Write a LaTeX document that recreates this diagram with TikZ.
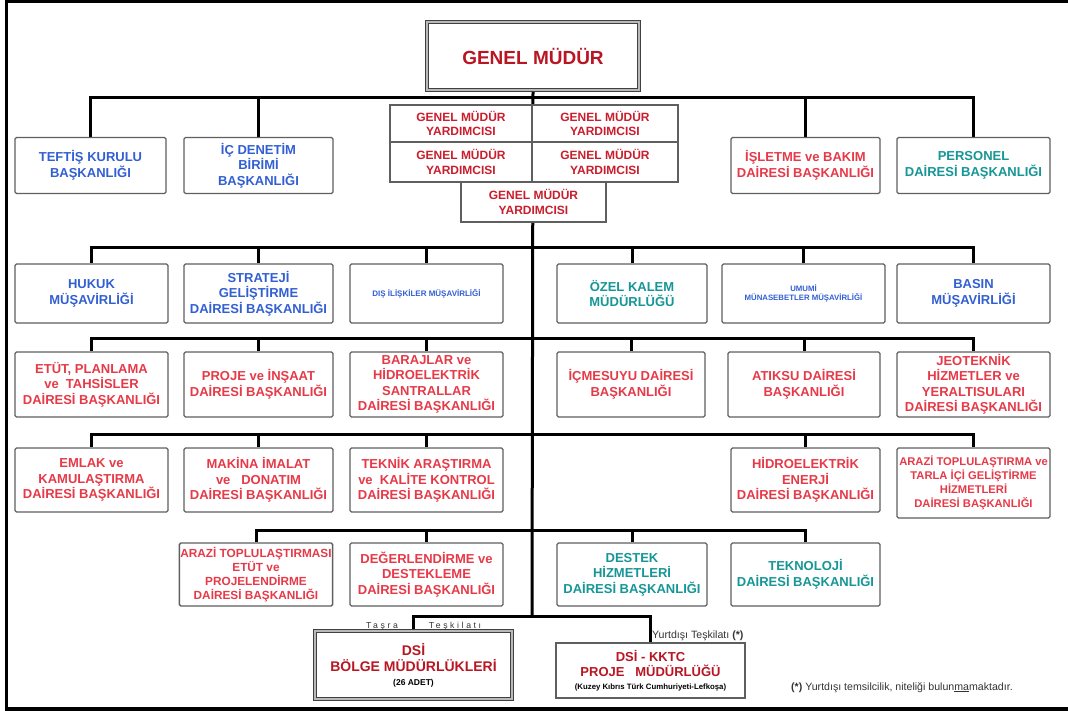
\documentclass[tikz,border=0pt]{standalone}
\usepackage{fontspec}
\setmainfont{Liberation Sans}
\newfontfamily\spacedfont[LetterSpace=30]{Liberation Sans}
\pgfdeclarelayer{background}
\pgfsetlayers{background,main}
\definecolor{dred}{RGB}{185,22,35}
\definecolor{mred}{RGB}{200,30,45}
\definecolor{lred}{RGB}{230,58,72}
\definecolor{ublue}{RGB}{50,95,210}
\definecolor{uteal}{RGB}{22,150,150}
\definecolor{bordergray}{RGB}{95,95,95}
\begin{document}
\begin{tikzpicture}[x=1pt,y=-1pt,
  box/.style={draw=bordergray, line width=1.3pt, fill=white, align=center, rounded corners=1.5pt,
    font=\bfseries\fontsize{13}{15.5}\selectfont, inner sep=1pt},
  redbox/.style={box, text=lred},
  bluebox/.style={box, text=ublue},
  tealbox/.style={box, text=uteal},
  gmybox/.style={draw=bordergray, line width=1.2pt, fill=white, align=center, text=mred,
    font=\bfseries\fontsize{12}{14.5}\selectfont, inner sep=1pt},
  bigbox/.style={draw=black!75, double=gray!55, double distance=2.6pt, line width=1pt,
    fill=white, align=center, inner sep=1pt},
  conn/.style={line width=3pt, black},
  smalltxt/.style={font=\fontsize{10.6}{12}\selectfont, text=black!80, inner sep=0pt},
  spaced/.style={font=\spacedfont\fontsize{8.7}{10}\selectfont, text=black!80, anchor=base, inner sep=0pt}
]
\useasboundingbox (0,0) rectangle (1068,711);
% outer frame
\draw[line width=3pt] (6.5,712) -- (6.5,1.5) -- (1070,1.5);
\draw[line width=4pt] (5,708.5) -- (1070,708.5);

% spine coordinates
\coordinate (s1) at (532,98);
\coordinate (s2) at (532,248);
\coordinate (s3) at (532,338);
\coordinate (s4) at (532,434);
\coordinate (s5) at (532,530);
\coordinate (s6) at (532,616);

% nodes
\node[bigbox, minimum width=212, minimum height=68, text=dred,
  font=\bfseries\fontsize{19}{22}\selectfont] (gm) at (533,56) {GENEL MÜDÜR};

% GMY grid
\node[gmybox, minimum width=142, minimum height=37] (gmy1) at (461,123.5) {GENEL MÜDÜR\\YARDIMCISI};
\node[gmybox, minimum width=146, minimum height=37] (gmy2) at (605,123.5) {GENEL MÜDÜR\\YARDIMCISI};
\node[gmybox, minimum width=142, minimum height=40] (gmy3) at (461,162) {GENEL MÜDÜR\\YARDIMCISI};
\node[gmybox, minimum width=146, minimum height=40] (gmy4) at (605,162) {GENEL MÜDÜR\\YARDIMCISI};
\node[gmybox, minimum width=145, minimum height=40] (gmy5) at (533.5,202) {GENEL MÜDÜR\\YARDIMCISI};

% row 1
\node[bluebox, minimum width=151, minimum height=56] (teftis) at (90.5,165.5) {TEFTİŞ KURULU\\BAŞKANLIĞI};
\node[bluebox, minimum width=149, minimum height=56] (icdenetim) at (258.5,165.5) {İÇ DENETİM\\BİRİMİ\\BAŞKANLIĞI};
\node[redbox, minimum width=149, minimum height=56] (isletme) at (805.5,165.5) {İŞLETME ve BAKIM\\DAİRESİ BAŞKANLIĞI};
\node[tealbox, minimum width=153, minimum height=56] (personel) at (973.5,165.5) {PERSONEL\\DAİRESİ BAŞKANLIĞI};

% row 2
\node[bluebox, minimum width=153, minimum height=59] (hukuk) at (91.5,293.5) {HUKUK\\MÜŞAVİRLİĞİ};
\node[bluebox, minimum width=149, minimum height=59] (strateji) at (258.5,293.5) {STRATEJİ\\GELİŞTİRME\\DAİRESİ BAŞKANLIĞI};
\node[bluebox, minimum width=153, minimum height=59, font=\bfseries\fontsize{8}{10}\selectfont] (dis) at (426.5,293.5) {DIŞ İLİŞKİLER MÜŞAVİRLİĞİ};
\node[tealbox, minimum width=150, minimum height=59] (ozel) at (632,293.5) {ÖZEL KALEM\\MÜDÜRLÜĞÜ};
\node[bluebox, minimum width=163, minimum height=59, font=\bfseries\fontsize{7.8}{9.5}\selectfont] (umumi) at (803.5,293.5) {UMUMİ\\MÜNASEBETLER MÜŞAVİRLİĞİ};
\node[bluebox, minimum width=153, minimum height=59] (basin) at (973.5,293.5) {BASIN\\MÜŞAVİRLİĞİ};

% row 3
\node[redbox, minimum width=153, minimum height=65] (etut) at (91.5,384.5) {ETÜT, PLANLAMA\\ve~~TAHSİSLER\\DAİRESİ BAŞKANLIĞI};
\node[redbox, minimum width=149, minimum height=65] (proje) at (258.5,384.5) {PROJE ve İNŞAAT\\DAİRESİ BAŞKANLIĞI};
\node[redbox, minimum width=153, minimum height=65] (barajlar) at (426.5,384.5) {BARAJLAR ve\\HİDROELEKTRİK\\SANTRALLAR\\DAİRESİ BAŞKANLIĞI};
\node[redbox, minimum width=148, minimum height=65] (icmesuyu) at (631,384.5) {İÇMESUYU DAİRESİ\\BAŞKANLIĞI};
\node[redbox, minimum width=152, minimum height=65] (atiksu) at (804,384.5) {ATIKSU DAİRESİ\\BAŞKANLIĞI};
\node[redbox, minimum width=153, minimum height=65] (jeoteknik) at (973.5,384.5) {JEOTEKNİK\\HİZMETLER ve\\YERALTISULARI\\DAİRESİ BAŞKANLIĞI};

% row 4
\node[redbox, minimum width=153, minimum height=64] (emlak) at (91.5,480) {EMLAK ve\\KAMULAŞTIRMA\\DAİRESİ BAŞKANLIĞI};
\node[redbox, minimum width=149, minimum height=64] (makina) at (258.5,480) {MAKİNA İMALAT\\ve~~~DONATIM\\DAİRESİ BAŞKANLIĞI};
\node[redbox, minimum width=153, minimum height=64] (teknik) at (426.5,480) {TEKNİK ARAŞTIRMA\\ve~~KALİTE KONTROL\\DAİRESİ BAŞKANLIĞI};
\node[redbox, minimum width=149, minimum height=64] (hidro) at (805.5,480) {HİDROELEKTRİK\\ENERJİ\\DAİRESİ BAŞKANLIĞI};
\node[redbox, minimum width=153, minimum height=70, font=\bfseries\fontsize{11.2}{14}\selectfont] (arazib) at (973.5,483) {ARAZİ TOPLULAŞTIRMA ve\\TARLA İÇİ GELİŞTİRME\\HİZMETLERİ\\DAİRESİ BAŞKANLIĞI};

% row 5
\node[redbox, minimum width=152, minimum height=63, font=\bfseries\fontsize{11.8}{14}\selectfont] (arazia) at (256,574.5) {ARAZİ TOPLULAŞTIRMASI\\ETÜT ve\\PROJELENDİRME\\DAİRESİ BAŞKANLIĞI};
\node[redbox, minimum width=153, minimum height=63] (degerlendirme) at (426.5,574.5) {DEĞERLENDİRME ve\\DESTEKLEME\\DAİRESİ BAŞKANLIĞI};
\node[tealbox, minimum width=150, minimum height=63] (destek) at (632,574.5) {DESTEK\\HİZMETLERİ\\DAİRESİ BAŞKANLIĞI};
\node[tealbox, minimum width=149, minimum height=63] (teknoloji) at (805.5,574.5) {TEKNOLOJİ\\DAİRESİ BAŞKANLIĞI};

% bottom
\node[bigbox, minimum width=197, minimum height=68, text=dred,
  font=\bfseries\fontsize{14}{16}\selectfont] (bolge) at (413.5,665)
  {DSİ\\BÖLGE MÜDÜRLÜKLERİ\\[-2pt]{\color{black}\fontsize{8.5}{10}\selectfont (26 ADET)}};
\node[draw=bordergray, line width=1.3pt, fill=white, align=center, inner sep=1pt,
  minimum width=189, minimum height=55, text=dred,
  font=\bfseries\fontsize{13}{15}\selectfont] (kktc) at (650.5,670.5)
  {DSİ - KKTC\\PROJE~~~MÜDÜRLÜĞÜ\\[-2pt]{\color{black}\fontsize{7.8}{9}\selectfont (Kuzey Kıbrıs Türk Cumhuriyeti-Lefkoşa)}};

% labels
\node[spaced] (tasra) at (382,628) {Taşra};
\node[spaced] (teskilati) at (455,628) {Teşkilatı};
\node[smalltxt, anchor=base west] (yurtdisi) at (652,638) {Yurtdışı Teşkilatı {\bfseries(*)}};
\node[smalltxt, anchor=base west] (note) at (791,690) {{\bfseries(*)} Yurtdışı temsilcilik, niteliği bulun\underline{ma}maktadır.};

% connectors (behind boxes)
\begin{pgfonlayer}{background}
\draw[conn] (gm.south) -- (s6);
\foreach \n in {teftis,icdenetim,isletme,personel} \draw[conn] (s1) -| (\n.north);
\foreach \n in {hukuk,strateji,dis,ozel,umumi,basin} \draw[conn] (s2) -| (\n.north);
\foreach \n in {etut,proje,barajlar,icmesuyu,atiksu,jeoteknik} \draw[conn] (s3) -| (\n.north);
\foreach \n in {emlak,makina,teknik,hidro,arazib} \draw[conn] (s4) -| (\n.north);
\foreach \n in {arazia,degerlendirme,destek,teknoloji} \draw[conn] (s5) -| (\n.north);
\foreach \n in {bolge,kktc} \draw[conn] (s6) -| (\n.north);
\end{pgfonlayer}
\end{tikzpicture}
\end{document}
